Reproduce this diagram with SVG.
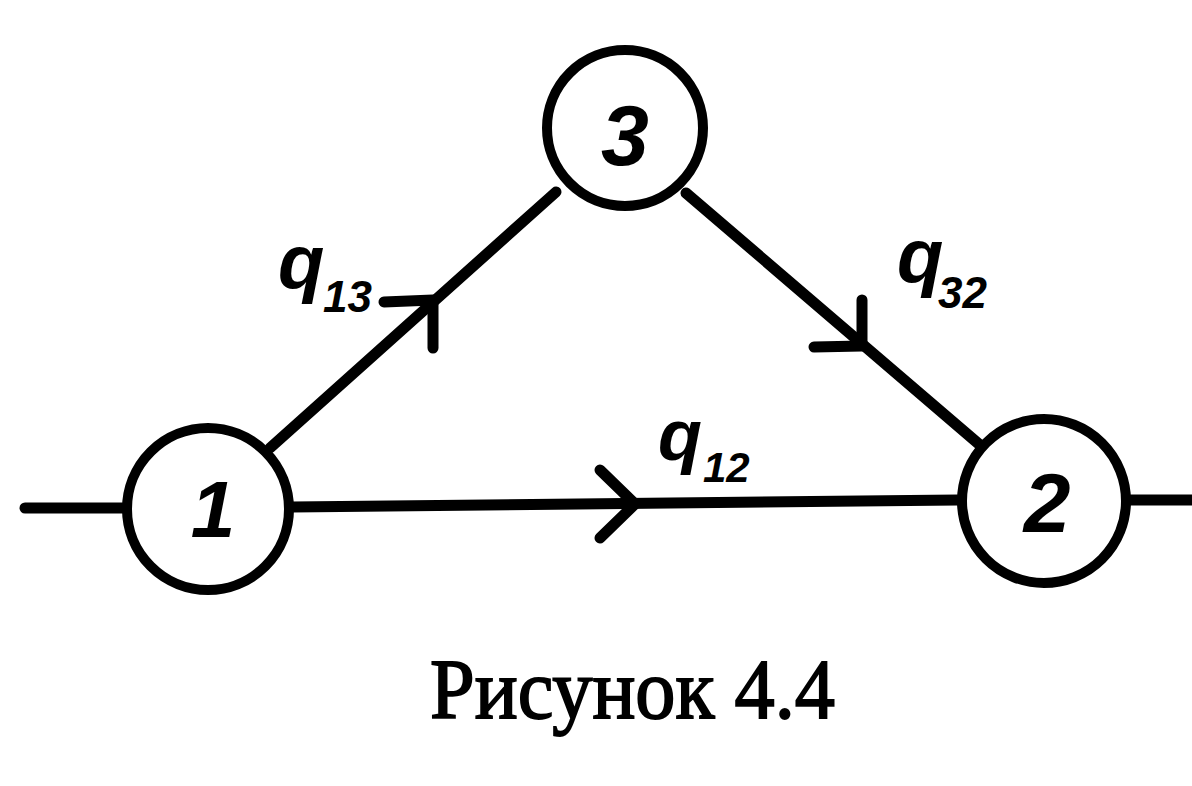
<svg xmlns="http://www.w3.org/2000/svg" width="1192" height="786" viewBox="0 0 1192 786">
<style>
.edge{stroke:#000;stroke-width:11;fill:none;stroke-linecap:round;stroke-linejoin:round}
.node circle{fill:#fff;stroke:#000;stroke-width:10}
.num{font-family:"Liberation Sans","DejaVu Sans",sans-serif;font-style:italic;font-weight:bold;fill:#000;text-anchor:middle}
.q{font-family:"Liberation Sans","DejaVu Sans",sans-serif;font-style:italic;font-weight:bold;fill:#000}
.cap{font-family:"Liberation Serif","DejaVu Serif",serif;font-weight:normal;fill:#000;stroke:#000;stroke-width:1.8}
</style>
<rect width="1192" height="786" fill="#fff"/>
<g id="connectors">
  <line class="edge" x1="25" y1="508" x2="124" y2="508"/>
  <line class="edge" x1="1130" y1="500" x2="1192" y2="500"/>
  <line class="edge" x1="292" y1="507" x2="958" y2="500"/>
  <polyline class="edge" points="600,470 635,504 600,538"/>
  <line class="edge" x1="270" y1="448" x2="556" y2="192"/>
  <polyline class="edge" points="384,302 433,300 433,348"/>
  <line class="edge" x1="686" y1="193" x2="980" y2="445"/>
  <polyline class="edge" points="862,300 862,346 814,347"/>
</g>
<g id="labels">
  <text class="q" x="278" y="288" font-size="76">q</text>
  <text class="q" x="323" y="312" font-size="44">13</text>
  <text class="q" x="897" y="282" font-size="76">q</text>
  <text class="q" x="938" y="308" font-size="44">32</text>
  <text class="q" x="658" y="460" font-size="72">q</text>
  <text class="q" x="703" y="482" font-size="42">12</text>
</g>
<g id="node1" class="node">
  <circle cx="208" cy="509" r="81"/>
  <text class="num" x="213" y="537" font-size="80">1</text>
</g>
<g id="node2" class="node">
  <circle cx="1044" cy="501" r="82"/>
  <text class="num" x="1047" y="532" font-size="84">2</text>
</g>
<g id="node3" class="node">
  <circle cx="625" cy="128" r="78"/>
  <text class="num" x="625" y="165" font-size="86">3</text>
</g>
<text class="cap" x="430" y="718" font-size="84" textLength="405" lengthAdjust="spacingAndGlyphs">Рисунок 4.4</text>
</svg>
